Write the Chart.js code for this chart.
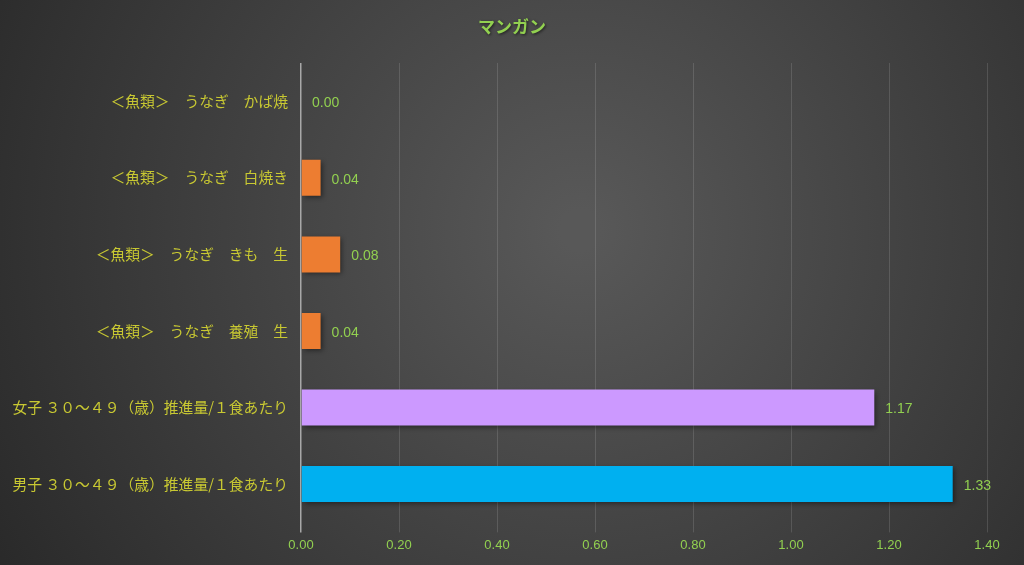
<!DOCTYPE html>
<html>
<head>
    <meta charset="UTF-8">
    <title>マンガン</title>
    <script src="https://cdn.jsdelivr.net/npm/chart.js@4"></script>
    <style>
        body { margin: 0; background: #333; }
        #wrap { width: 1024px; height: 565px; }
    </style>
</head>
<body>
    <div id="wrap"><canvas id="myChart"></canvas></div>
    <script>
        const chartTitle = 'マンガン';
        const categories = [
            '＜魚類＞　うなぎ　かば焼',
            '＜魚類＞　うなぎ　白焼き',
            '＜魚類＞　うなぎ　きも　生',
            '＜魚類＞　うなぎ　養殖　生',
            '女子 ３０～４９（歳）推進量/１食あたり',
            '男子 ３０～４９（歳）推進量/１食あたり'
        ];
        const values = [0.00, 0.04, 0.08, 0.04, 1.17, 1.33];
        const barColors = ['#ED7D31', '#ED7D31', '#ED7D31', '#ED7D31', '#CC99FF', '#00B0F0'];
        const xTicks = [0, 0.2, 0.4, 0.6, 0.8, 1.0, 1.2, 1.4];

        const green = '#92D050';

        // dark radial background + title
        const bgPlugin = {
            id: 'bg',
            beforeDraw(chart) {
                const c = chart.ctx;
                const g = c.createRadialGradient(580, 230, 20, 580, 230, 720);
                g.addColorStop(0, '#585858');
                g.addColorStop(1, '#262626');
                c.save();
                c.fillStyle = g;
                c.fillRect(0, 0, chart.width, chart.height);
                c.font = 'bold 17px "Noto Sans CJK JP", sans-serif';
                c.fillStyle = green;
                c.textAlign = 'center';
                c.textBaseline = 'middle';
                c.shadowColor = 'rgba(0,0,0,0.6)';
                c.shadowBlur = 3;
                c.shadowOffsetX = 1;
                c.shadowOffsetY = 1;
                c.fillText(chartTitle, 512, 27);
                c.restore();
            }
        };

        // bar shadow
        const shadowPlugin = {
            id: 'barShadow',
            beforeDatasetDraw(chart) {
                const c = chart.ctx;
                c.save();
                c.shadowColor = 'rgba(0,0,0,0.45)';
                c.shadowBlur = 5;
                c.shadowOffsetX = 2;
                c.shadowOffsetY = 2;
            },
            afterDatasetDraw(chart) {
                chart.ctx.restore();
            }
        };

        // value labels to the right of each bar
        const valueLabels = {
            id: 'valueLabels',
            afterDatasetsDraw(chart) {
                const c = chart.ctx;
                const meta = chart.getDatasetMeta(0);
                c.save();
                c.font = '14px "Liberation Sans Narrow", "Liberation Sans", sans-serif';
                c.fillStyle = green;
                c.textBaseline = 'middle';
                meta.data.forEach((bar, i) => {
                    c.fillText(values[i].toFixed(2), bar.x + 11, bar.y + 2);
                });
                c.restore();
            }
        };

        const ctx = document.getElementById('myChart').getContext('2d');
        new Chart(ctx, {
            type: 'bar',
            data: {
                labels: categories,
                datasets: [{
                    data: values,
                    backgroundColor: barColors,
                    borderColor: barColors,
                    borderWidth: 0,
                    barPercentage: 0.47,
                    categoryPercentage: 1
                }]
            },
            options: {
                indexAxis: 'y',
                responsive: true,
                maintainAspectRatio: false,
                animation: false,
                layout: { padding: { left: 0, top: 63, right: 37, bottom: 7 } },
                plugins: {
                    legend: { display: false },
                    tooltip: { enabled: false },
                    title: { display: false }
                },
                scales: {
                    x: {
                        min: 0,
                        max: 1.4,
                        afterBuildTicks(scale) {
                            scale.ticks = xTicks.map(v => ({ value: v }));
                        },
                        border: { display: false },
                        grid: {
                            color: c => c.index === 0 ? '#a8a8a8' : 'rgba(255,255,255,0.13)',
                            lineWidth: c => c.index === 0 ? 1.5 : 1,
                            tickLength: 10
                        },
                        ticks: {
                            color: green,
                            padding: 5,
                            font: { family: '"Liberation Sans Narrow", "Liberation Sans", sans-serif', size: 13 },
                            callback: v => Number(v).toFixed(2)
                        }
                    },
                    y: {
                        afterFit(scale) { scale.width = 301; },
                        border: { display: false },
                        grid: { display: false, drawTicks: false },
                        ticks: {
                            color: '#C8C832',
                            padding: 13,
                            font: { family: '"Noto Sans CJK JP", sans-serif', size: 14.8 }
                        }
                    }
                }
            },
            plugins: [bgPlugin, shadowPlugin, valueLabels]
        });
    </script>
</body>
</html>
